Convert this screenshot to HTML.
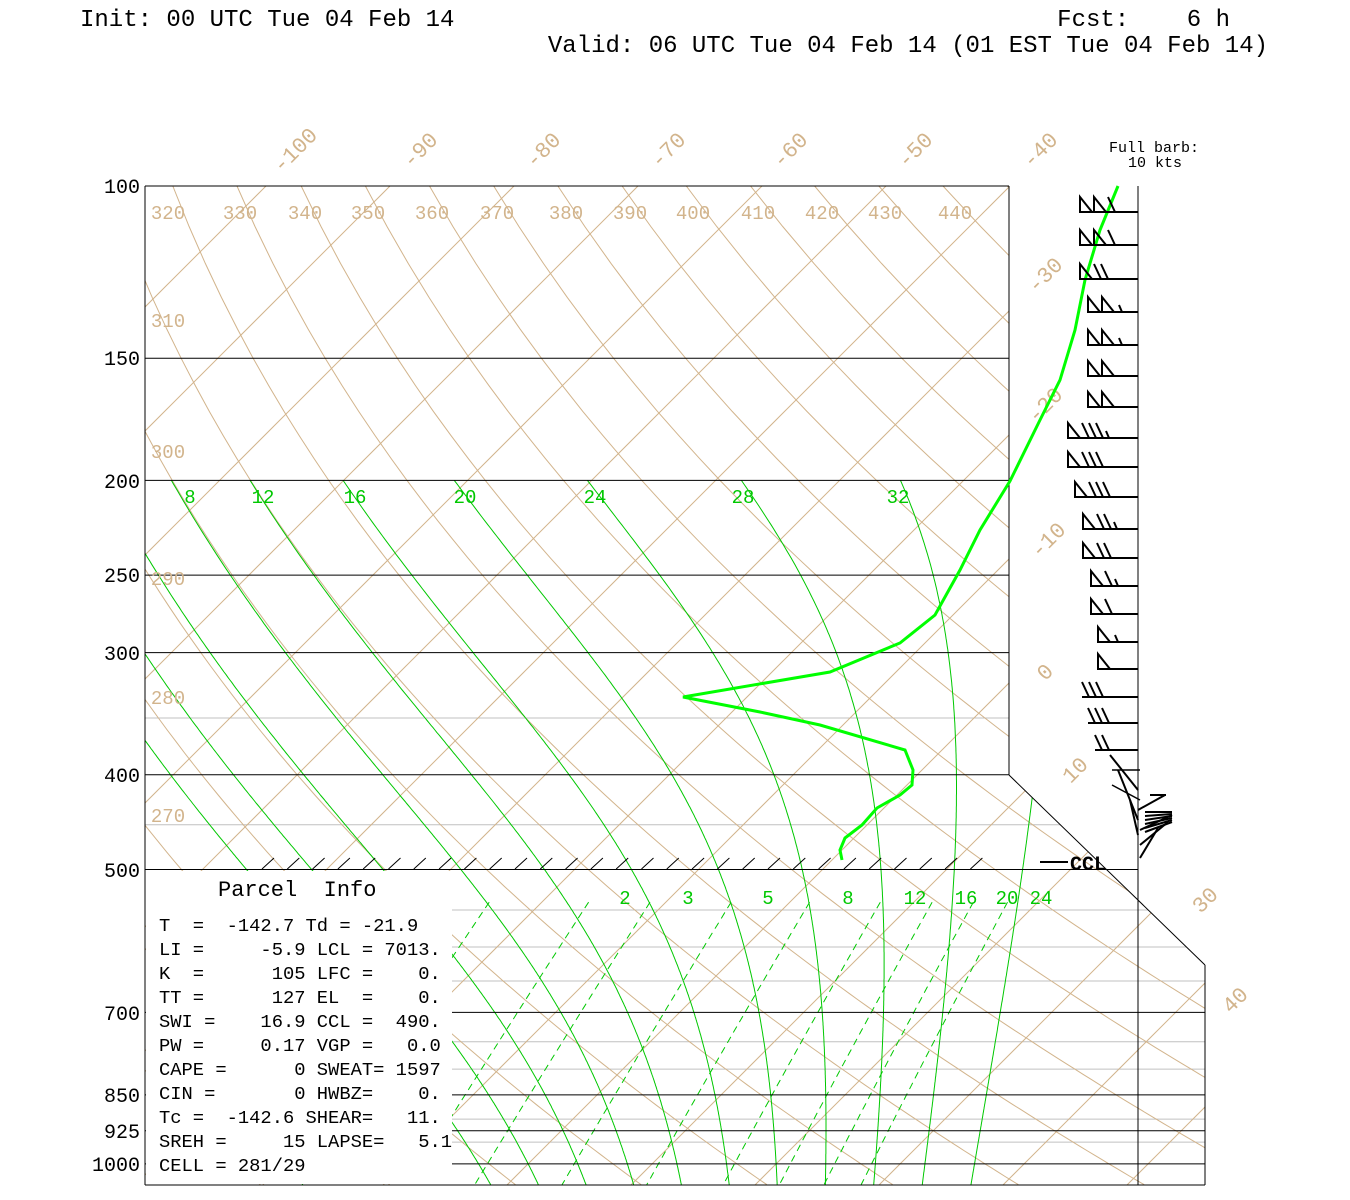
<!DOCTYPE html>
<html><head><meta charset="utf-8"><style>
html,body{margin:0;padding:0;background:#fff;}
svg{display:block;}
text{font-family:"Liberation Mono",monospace;}
.pre{white-space:pre;}
</style></head><body>
<svg id="s" width="1350" height="1200" xmlns="http://www.w3.org/2000/svg">
<defs><clipPath id="cp"><polygon points="145,186 1009,186 1009,775 1205,965 1205,1185 145,1185"/></clipPath></defs>
<g id="g" clip-path="url(#cp)"></g>
<g id="fg"></g>
</svg>
<script>
var NS="http://www.w3.org/2000/svg";
var g=document.getElementById('g'),fg=document.getElementById('fg');
function Y(p){return 186+424.7*Math.log(p/100);}
function X(T,y){return 1010+12.4*(T+40)+(186-y);}
function el(parent,tag,attrs,txt){var e=document.createElementNS(NS,tag);for(var k in attrs)e.setAttribute(k,attrs[k]);if(txt!==undefined)e.textContent=txt;parent.appendChild(e);return e;}
function line(parent,x1,y1,x2,y2,c,w){el(parent,'line',{x1:x1,y1:y1,x2:x2,y2:y2,stroke:c,'stroke-width':w||1});}
var TAN="#d2b48c",GRN="#00c800";
[350,450].forEach(function(p){var y=Y(p);line(g,145,y,1205,y,"#c0c0c0");});
[550,600,650,750,800,900,950].forEach(function(p){var y=Y(p);line(g,452,y,1205,y,"#c0c0c0");});
for(var T=-160;T<=60;T+=10){var y1=1185,y2=186;line(g,X(T,y1),y1,X(T,y2),y2,TAN);}
for(var th=230;th<=460;th+=10){var pts=[];for(var p=100;p<=1055;p+=10){var TK=th*Math.pow(p/1000,0.286);var y=Y(p);pts.push(X(TK-273.15,y).toFixed(1)+","+y.toFixed(1));}
el(g,'polyline',{points:pts.join(' '),fill:'none',stroke:TAN,'stroke-width':1});}
function es(Tc){return 6.112*Math.exp(17.67*Tc/(Tc+243.5));}
function moist(tw){var T=tw+273.15,p;var res=[];var step=-2;
 function dTdp(T,p){var rs=0.622*es(T-273.15)/(p-es(T-273.15));var Lv=2.5e6,Rd=287,cp=1005;return (1/p)*(Rd*T+Lv*rs)/(cp+Lv*Lv*rs*0.622/(Rd*T*T));}
 var Tb=T;for(var pp=1000;pp<1052;pp+=1){Tb+=dTdp(Tb,pp)*1;}
 T=Tb;for(p=1052;p>=200;p-=2){var y=Y(p);res.push(X(T-273.15,y).toFixed(1)+","+y.toFixed(1));T+=dTdp(T,p)*step;}
 return res;}
[-4,0,4,8,12,16,20,24,28,32,36].forEach(function(tw){el(g,'polyline',{points:moist(tw).join(' '),fill:'none',stroke:GRN,'stroke-width':1});});
[1,2,3,5,8,12,16,20,24].forEach(function(w){var pts=[];for(var p=540;p<=1055;p+=10){var e=w/1000*p/(0.622+w/1000);var l=Math.log(e/6.112);var Tc=243.5*l/(17.67-l);var y=Y(p);pts.push(X(Tc,y).toFixed(1)+","+y.toFixed(1));}
el(g,'polyline',{points:pts.join(' '),fill:'none',stroke:GRN,'stroke-width':1,'stroke-dasharray':'7,5'});});
var B="#000";
line(fg,145,186,1009,186,B);line(fg,145,186,145,1185,B);line(fg,1009,186,1009,775,B);
line(fg,1009,775,1205,965,B);line(fg,1205,965,1205,1185,B);line(fg,145,1185,1205,1185,B);
line(fg,1138,186,1138,1185,B);
[[150,1009],[200,1009],[250,1009],[300,1009],[400,1009],[500,1138],[700,1205],[850,1205],[925,1205],[1000,1205]].forEach(function(a){var y=Y(a[0]);line(fg,145,y,a[1],y,B);});
for(var hx=262;hx<=985;hx+=25.3){line(fg,hx,869,hx+12,858,B);}
el(fg,'rect',{x:146,y:871,width:306,height:313,fill:'#fff'});
[[100,186],[150,358],[200,481],[250,575],[300,653],[400,775],[500,870],[700,1013],[850,1095],[925,1131],[1000,1164]].forEach(function(a){el(fg,'text',{x:140,y:a[1]+7,'text-anchor':'end','font-size':20,fill:B},String(a[0]));});
[["-100",295,150],["-90",420,150],["-80",543,150],["-70",668,150],["-60",790,150],["-50",915,150],["-40",1040,150],["-30",1045,275],["-20",1045,405],["-10",1048,540],["0",1045,672],["10",1075,770],["30",1205,900],["40",1235,1000]].forEach(function(a){el(fg,'text',{x:a[1],y:a[2]+7,'text-anchor':'middle','font-size':22,fill:TAN,transform:'rotate(-45 '+a[1]+' '+a[2]+')'},a[0]);});
var dl=[[320,168],[330,240],[340,305],[350,368],[360,432],[370,497],[380,566],[390,630],[400,693],[410,758],[420,822],[430,885],[440,955]];
dl.forEach(function(a){el(fg,'text',{x:a[1],y:219,'text-anchor':'middle','font-size':19,fill:TAN},String(a[0]));});
[[310,320],[300,451],[290,578],[280,697],[270,815]].forEach(function(a){el(fg,'text',{x:168,y:a[1]+7,'text-anchor':'middle','font-size':19,fill:TAN},String(a[0]));});
[[8,190],[12,263],[16,355],[20,465],[24,595],[28,743],[32,898]].forEach(function(a){el(fg,'text',{x:a[1],y:503,'text-anchor':'middle','font-size':19,fill:GRN},String(a[0]));});
[[2,625],[3,688],[5,768],[8,848],[12,915],[16,966],[20,1007],[24,1041]].forEach(function(a){el(fg,'text',{x:a[1],y:904,'text-anchor':'middle','font-size':19,fill:GRN},String(a[0]));});
var snd=[[1118,186],[1100,230],[1085,280],[1075,330],[1060,380],[1040,420],[1010,481],[980,530],[960,570],[935,615],[900,643],[830,672],[683,697],[760,712],[820,725],[905,750],[913,770],[912,785],[900,795],[877,808],[862,825],[845,838],[840,850],[842,860]];
el(fg,'polyline',{points:snd.map(function(p){return p.join(',')}).join(' '),fill:'none',stroke:'#00ff00','stroke-width':3});
var wb=[[212,1080,2,1,0],[245,1080,2,1,0],[279,1080,1,2,0],[312,1088,2,0,1],[345,1088,2,0,1],[376,1088,2,0,0],[407,1088,2,0,0],[438,1068,1,3,1],[467,1068,1,3,0],[497,1075,1,3,0],[529,1083,1,2,1],[558,1083,1,2,0],[586,1091,1,1,1],[614,1091,1,1,0],[642,1098,1,0,1],[669,1098,1,0,0],[697,1082,0,3,0],[723,1088,0,3,0],[750,1095,0,2,0]];
wb.forEach(function(b){var y=b[0],x=b[1];line(fg,x,y,1138,y,B,2);var cx=x;
for(var i=0;i<b[2];i++){el(fg,'polygon',{points:cx+','+y+' '+cx+','+(y-15)+' '+(cx+12)+','+y,fill:'none',stroke:B,'stroke-width':2});cx+=14;}
for(var i=0;i<b[3];i++){line(fg,cx,y-15,cx+7,y,B,2);cx+=7;}
if(b[4]){line(fg,cx+3,y-7,cx+6,y,B,2);}});
[[1110,755,1138,790],[1118,770,1138,820],[1130,800,1138,835],[1138,810,1165,795],[1140,830,1172,815],[1140,845,1168,822],[1140,858,1158,828]].forEach(function(a){line(fg,a[0],a[1],a[2],a[3],B,2);});
line(fg,1112,770,1140,770,B,1.5);line(fg,1112,785,1140,800,B,1.5);line(fg,1150,795,1166,795,B,2);
for(var i=0;i<6;i++){line(fg,1145,812+i*4,1172,812+i*2,B,2);}
line(fg,1040,862,1068,862,B,2);
el(fg,'text',{x:1070,y:870,'font-size':20,'font-weight':'bold','font-family':'Liberation Serif',fill:B},'CCL');
el(fg,'text',{x:1154,y:152,'text-anchor':'middle','font-size':15,'font-family':'Liberation Serif',fill:B},'Full barb:');
el(fg,'text',{x:1155,y:167,'text-anchor':'middle','font-size':15,'font-family':'Liberation Serif',fill:B},'10 kts');
el(fg,'text',{x:80,y:26,'font-size':24,fill:B,'class':'pre'},'Init: 00 UTC Tue 04 Feb 14');
el(fg,'text',{x:1230,y:26,'text-anchor':'end','font-size':24,fill:B,'class':'pre'},'Fcst:    6 h');
el(fg,'text',{x:1268,y:52,'text-anchor':'end','font-size':24,fill:B,'class':'pre'},'Valid: 06 UTC Tue 04 Feb 14 (01 EST Tue 04 Feb 14)');
el(fg,'text',{x:218,y:896,'font-size':22,fill:B,'class':'pre'},'Parcel  Info');
var pl=["T  =  -142.7 Td = -21.9","LI =     -5.9 LCL = 7013.","K  =      105 LFC =    0.","TT =      127 EL  =    0.","SWI =    16.9 CCL =  490.","PW =     0.17 VGP =   0.0","CAPE =      0 SWEAT= 1597","CIN =       0 HWBZ=    0.","Tc =  -142.6 SHEAR=   11.","SREH =     15 LAPSE=   5.1","CELL = 281/29"];
pl.forEach(function(s,i){el(fg,'text',{x:159,y:931+i*24,'font-size':18.8,fill:B,'class':'pre'},s);});
</script>
</body></html>
